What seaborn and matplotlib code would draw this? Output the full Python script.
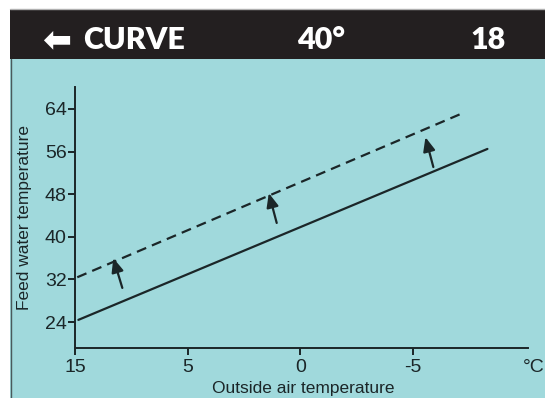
import matplotlib
matplotlib.use('Agg')
import matplotlib.pyplot as plt
from matplotlib.patches import Rectangle
import seaborn as sns

# Axis ticks (x ticks are evenly spaced positions on the schematic)
x_tick_pos = [0, 1, 2, 3]
x_tick_labels = ['15', '5', '0', '-5']
y_ticks = [24, 32, 40, 48, 56, 64]

# Heating curve before (solid) and after (dashed) raising it
solid_x = [0.03, 3.66]
solid_y = [24.4, 56.5]
dashed_x = [0.02, 3.46]
dashed_y = [32.4, 63.4]

# Arrows pointing from the solid curve up to the dashed one
arrow_tail_x = [0.42, 1.79, 3.18]
arrow_tail_y = [30.4, 42.6, 53.1]
arrow_tip_x = [0.34, 1.72, 3.11]
arrow_tip_y = [36.0, 48.2, 58.7]

header_left = 'CURVE'
header_mid = '40°'
header_right = '18'

cyan = '#a0d9dc'
dark = '#231f20'
ink = '#1b2628'

sns.set_theme(style='white')
plt.rcParams['font.family'] = ['Liberation Sans', 'DejaVu Sans']

fig = plt.figure(figsize=(5.45, 3.98), dpi=100)
fig.patch.set_facecolor('white')

W, H = 545, 398
# cyan panel and dark header band
fig.add_artist(Rectangle((10 / W, 0), 1 - 10 / W, 1 - 59 / H, transform=fig.transFigure,
                         facecolor=cyan, edgecolor='none', zorder=0))
fig.add_artist(Rectangle((10 / W, 1 - 59 / H), 1 - 10 / W, 49 / H, transform=fig.transFigure,
                         facecolor=dark, edgecolor='none', zorder=0))
fig.add_artist(plt.Line2D([10 / W, 1], [1 - 9 / H, 1 - 9 / H], transform=fig.transFigure,
                          color='#b0b0b0', lw=1))
fig.add_artist(plt.Line2D([10.5 / W, 10.5 / W], [0, 1 - 59 / H], transform=fig.transFigure,
                          color='#4a5a5c', lw=1))

hy = 1 - 40 / H
fig.text(42 / W, hy, '\u2B05', color='white', fontsize=25, fontweight='bold',
         family='DejaVu Sans', va='center', ha='left')
fig.text(83 / W, hy, header_left, color='white', fontsize=22, fontweight='heavy',
         family='Lato', va='center', ha='left')
fig.text(321 / W, hy, header_mid, color='white', fontsize=22, fontweight='heavy',
         family='Lato', va='center', ha='center')
fig.text(488 / W, hy, header_right, color='white', fontsize=22, fontweight='heavy',
         family='Lato', va='center', ha='center')

ax = fig.add_axes([75 / W, 1 - 348 / H, 453 / W, 261 / H])
ax.set_facecolor('none')

sns.lineplot(x=solid_x, y=solid_y, ax=ax, color=ink, lw=1.6)
sns.lineplot(x=dashed_x, y=dashed_y, ax=ax, color=ink, lw=1.6)
ax.lines[-1].set_dashes((4.5, 2.8))

for tx, ty, hx, hy2 in zip(arrow_tail_x, arrow_tail_y, arrow_tip_x, arrow_tip_y):
    ax.annotate('', xy=(hx, hy2), xytext=(tx, ty),
                arrowprops=dict(arrowstyle='-|>,head_length=0.7,head_width=0.3',
                                color=ink, lw=1.6, shrinkA=0, shrinkB=0))

ax.set_xlim(0, 4.02)
ax.set_ylim(19.12, 68.13)
ax.set_xticks(x_tick_pos)
ax.set_xticklabels(x_tick_labels)
ax.set_yticks(y_ticks)

for s in ['top', 'right']:
    ax.spines[s].set_visible(False)
for s in ['left', 'bottom']:
    ax.spines[s].set_color(ink)
    ax.spines[s].set_linewidth(1.4)

ax.tick_params(axis='both', direction='out', length=5, width=1.4, color=ink,
               labelcolor=ink, labelsize=14, left=True, bottom=True)
ax.tick_params(axis='x', pad=3)
ax.tick_params(axis='y', pad=1)

# unit label at the end of the x axis
ax.text(1 + 17 / 453, -0.073, '°C', transform=ax.transAxes, color=ink,
        fontsize=14, ha='right', va='center')

ax.set_ylabel('Feed water temperature', fontsize=12.5, color=ink)
ax.yaxis.set_label_coords(-0.095, 0.5)
ax.set_xlabel('Outside air temperature', fontsize=12.5, color=ink, va='center')
ax.xaxis.set_label_coords(0.503, -0.155)

fig.savefig('out.png', dpi=100)
